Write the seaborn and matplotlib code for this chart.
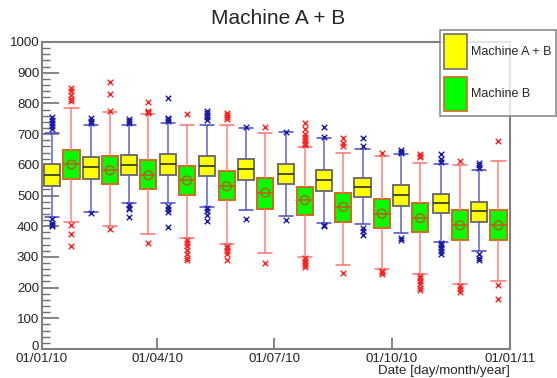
import pandas as pd
import numpy as np
import matplotlib
matplotlib.use("Agg")
import matplotlib.pyplot as plt
import matplotlib.transforms as mtransforms
from matplotlib.patches import Patch
import seaborn as sns

# --- data (box = whisker low, Q1, median, Q3, whisker high) ---
ab_dates = ['2010-01-09', '2010-02-08', '2010-03-10', '2010-04-09', '2010-05-10', '2010-06-09',
            '2010-07-10', '2010-08-09', '2010-09-08', '2010-10-08', '2010-11-08', '2010-12-08']
ab_lo = [430, 446, 474, 474, 464, 452, 433, 409, 408, 378, 348, 319]
ab_q1 = [531, 555, 566, 568, 563, 552, 536, 514, 496, 465, 444, 414]
ab_med = [566, 592, 598, 601, 596, 587, 571, 549, 527, 502, 476, 449]
ab_q3 = [601, 626, 631, 634, 628, 620, 603, 582, 557, 535, 506, 478]
ab_hi = [704, 731, 729, 735, 729, 720, 706, 688, 653, 634, 603, 582]
ab_fliers = [
    [715, 726, 737, 747, 756, 422, 412, 405, 400],
    [735, 742, 753, 444],
    [735, 742, 748, 468, 460, 455, 430],
    [742, 748, 754, 816, 466, 455, 445, 398],
    [747, 755, 762, 770, 776, 458, 450, 438, 418],
    [724, 422],
    [708, 420],
    [690, 723, 405, 402],
    [661, 688, 395, 385, 372],
    [638, 642, 648, 362, 355],
    [610, 620, 635, 345, 338, 330, 320, 310],
    [590, 598, 606, 308, 298, 290],
]

b_dates = ['2010-01-24', '2010-02-23', '2010-03-25', '2010-04-24', '2010-05-25', '2010-06-24',
           '2010-07-25', '2010-08-24', '2010-09-23', '2010-10-23', '2010-11-23', '2010-12-23']
b_lo = [413, 402, 376, 362, 343, 313, 300, 275, 261, 244, 212, 221]
b_q1 = [555, 536, 520, 503, 485, 457, 438, 414, 395, 382, 354, 354]
b_med = [601, 582, 566, 549, 530, 509, 485, 463, 441, 426, 403, 403]
b_q3 = [648, 628, 617, 596, 579, 557, 528, 509, 487, 474, 454, 454]
b_hi = [786, 771, 764, 731, 729, 702, 659, 637, 628, 606, 598, 612]
b_mean = [601, 582, 566, 549, 530, 509, 485, 463, 441, 426, 403, 403]
b_fliers = [
    [807, 813, 827, 842, 851, 405, 375, 335],
    [774, 831, 869, 392],
    [768, 772, 776, 806, 346],
    [764, 355, 345, 335, 322, 310, 298, 290],
    [748, 755, 762, 770, 336, 328, 320, 310, 290],
    [724, 281],
    [665, 672, 680, 690, 700, 715, 737, 295, 288, 280, 272, 266],
    [660, 672, 688, 246],
    [639, 255, 250, 245],
    [625, 630, 636, 238, 230, 222, 212, 200, 192],
    [612, 205, 195, 185],
    [677, 207, 163],
]

tick_dates = ['2010-01-01', '2010-04-01', '2010-07-01', '2010-10-01', '2011-01-01']
tick_labels = ['01/01/10', '01/04/10', '01/07/10', '01/10/10', '01/01/11']

start = pd.Timestamp('2010-01-01')


def to_day(dates):
    return [(pd.Timestamp(d) - start).days for d in dates]


def box_frame(dates, lo, q1, med, q3, hi):
    rows = []
    for d, a, b, c, e, f in zip(to_day(dates), lo, q1, med, q3, hi):
        for v in (a, b, c, e, f):
            rows.append({'day': d, 'value': v})
    return pd.DataFrame(rows)


def flier_frame(dates, fliers):
    rows = []
    for d, fl in zip(to_day(dates), fliers):
        for v in fl:
            rows.append({'day': d, 'value': v})
    return pd.DataFrame(rows)


df_ab = box_frame(ab_dates, ab_lo, ab_q1, ab_med, ab_q3, ab_hi)
df_b = box_frame(b_dates, b_lo, b_q1, b_med, b_q3, b_hi)
fl_ab = flier_frame(ab_dates, ab_fliers)
fl_b = flier_frame(b_dates, b_fliers)
mean_b = pd.DataFrame({'day': to_day(b_dates), 'value': b_mean})

# --- plot ---
sns.set_style('white')
plt.rcParams['font.family'] = ['Liberation Sans', 'DejaVu Sans']

fig = plt.figure(figsize=(5.57, 3.78), dpi=100)
ax = fig.add_axes([42 / 557, 1 - 349 / 378, 468 / 557, 307 / 378])

yellow_edge = '#707070'
green_edge = '#d2691e'

sns.boxplot(data=df_ab, x='day', y='value', native_scale=True, whis=(0, 100),
            showfliers=False, width=0.42, color='#ffff00', saturation=1,
            linecolor=yellow_edge, linewidth=1.4, capwidths=11,
            boxprops=dict(edgecolor=yellow_edge, linewidth=1.4),
            medianprops=dict(color='#303030', linewidth=1.2),
            whiskerprops=dict(color='#6060cc', linewidth=1.1),
            capprops=dict(color='#4a4ac0', linewidth=1.1), ax=ax)
sns.boxplot(data=df_b, x='day', y='value', native_scale=True, whis=(0, 100),
            showfliers=False, width=0.42, color='#00ff00', saturation=1,
            linecolor=green_edge, linewidth=1.4, capwidths=11,
            boxprops=dict(edgecolor=green_edge, linewidth=1.4),
            medianprops=dict(color='#c0601a', linewidth=1.2),
            whiskerprops=dict(color='#ff8080', linewidth=1.1),
            capprops=dict(color='#ff7070', linewidth=1.1), ax=ax)

sns.scatterplot(data=fl_ab, x='day', y='value', marker='x', color='#1a1aa8',
                s=16, linewidth=1.0, ax=ax, zorder=4)
sns.scatterplot(data=fl_b, x='day', y='value', marker='x', color='#ff2020',
                s=16, linewidth=1.0, ax=ax, zorder=4)
sns.scatterplot(data=mean_b, x='day', y='value', marker='o', facecolor='none',
                edgecolor='#b8601a', s=40, linewidth=1.1, ax=ax, zorder=5)

ax.set_xlim(0, 365)
ax.set_ylim(0, 1000)
ax.set_xticks(to_day(tick_dates))
ax.set_xticklabels(tick_labels)
ax.set_yticks(np.arange(0, 1001, 100))
ax.set_yticks(np.arange(0, 1001, 20), minor=True)
ax.tick_params(axis='y', which='major', direction='in', length=12, width=1.2,
               color='#707070', labelsize=9.6, pad=2, left=True)
ax.tick_params(axis='y', which='minor', direction='in', length=6, width=1.0,
               color='#707070', left=True)
ax.tick_params(axis='x', which='major', direction='in', length=8, width=1.2,
               color='#707070', labelsize=9.6, pad=3, bottom=True)
ax.set_ylabel('')
ax.set_xlabel('Date [day/month/year]', loc='right', fontsize=9.6, labelpad=0)
for sp in ax.spines.values():
    sp.set_color('#808080')
    sp.set_linewidth(1.5)

# lift the "0" label a touch so it doesn't sit on the first date label
zero_lbl = ax.get_yticklabels()[0]
zero_lbl.set_transform(zero_lbl.get_transform() +
                       mtransforms.ScaledTranslation(0, 3 / 100, fig.dpi_scale_trans))

fig.text(0.5, 1 - 18 / 378, 'Machine A + B', ha='center', va='center', fontsize=15)

handles = [Patch(facecolor='#ffff00', edgecolor=yellow_edge, linewidth=1.2, label='Machine A + B'),
           Patch(facecolor='#00ff00', edgecolor=green_edge, linewidth=1.2, label='Machine B')]
leg = fig.legend(handles=handles, loc='upper left', bbox_to_anchor=(440 / 557, 1 - 30 / 378),
                 fontsize=9, handlelength=1.8, handleheight=3.9, labelspacing=0.6,
                 fancybox=False, frameon=True, borderaxespad=0, borderpad=0.35,
                 handletextpad=0.3)
leg.get_frame().set_edgecolor('#707070')
leg.get_frame().set_linewidth(1.2)
leg.set_zorder(10)

fig.savefig('out.png', dpi=100)
